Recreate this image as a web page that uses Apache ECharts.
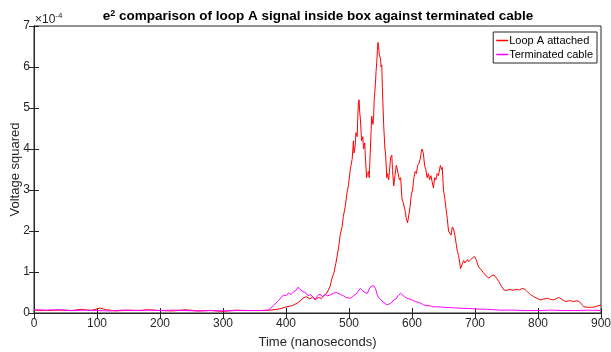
<!DOCTYPE html>
<html lang="en">

<head>
    <meta charset="UTF-8">
    <title>e2 comparison</title>
    <script src="https://cdn.jsdelivr.net/npm/echarts@6/dist/echarts.min.js"></script>
    <style>
        html, body { margin: 0; padding: 0; background: #fff; }
        #chart { width: 611px; height: 352px; }
    </style>
</head>

<body>
    <div id="chart"></div>
    <script>
        // values in units of 1e-4 (V^2), time in ns
        var loopTime = [0, 20, 40, 60, 75, 90, 105, 115, 130, 150, 170, 180, 200, 220, 240, 260, 280, 300, 320, 340, 360, 375, 390, 401, 410, 419, 427, 432, 438, 442, 447, 452, 456, 460, 465, 470, 473, 476, 479, 481, 484, 486, 489, 491, 494, 497, 499, 502, 505, 507, 508, 510, 511, 513, 514, 515, 516, 517, 518, 520, 522, 523, 525, 526, 528, 529, 531, 532, 534, 535, 536, 538, 539, 540, 542, 543, 544, 545, 546, 547, 548, 550, 551, 552, 553, 555, 557, 558, 560, 561, 563, 565, 566, 568, 569, 571, 573, 575, 576, 578, 580, 582, 584, 586, 589, 591, 593, 595, 597, 599, 601, 603, 605, 607, 609, 611, 613, 615, 616, 618, 620, 622, 624, 626, 628, 630, 632, 634, 636, 638, 640, 642, 645, 647, 648, 650, 652, 654, 656, 658, 660, 662, 664, 666, 668, 670, 672, 674, 676, 677, 680, 682, 684, 686, 688, 690, 693, 696, 699, 702, 705, 707, 710, 714, 718, 722, 726, 730, 734, 738, 742, 746, 750, 755, 760, 765, 770, 775, 779, 783, 788, 793, 798, 804, 809, 815, 820, 825, 829, 833, 838, 844, 850, 857, 862, 866, 870, 873, 878, 883, 888, 894, 900];
        var loopVal = [0.07, 0.06, 0.07, 0.06, 0.09, 0.06, 0.12, 0.08, 0.05, 0.07, 0.06, 0.08, 0.06, 0.05, 0.08, 0.05, 0.06, 0.04, 0.07, 0.06, 0.06, 0.07, 0.10, 0.15, 0.18, 0.25, 0.36, 0.40, 0.34, 0.39, 0.33, 0.38, 0.35, 0.42, 0.49, 0.65, 0.85, 0.97, 1.2, 1.37, 1.65, 1.9, 2.1, 2.35, 2.6, 2.95, 3.1, 3.5, 3.75, 4.2, 3.9, 4.1, 4.4, 4.3, 4.8, 5.15, 5.2, 4.9, 4.75, 4.2, 4.3, 4.0, 4.15, 3.8, 3.3, 3.4, 3.45, 3.3, 4.0, 4.4, 4.8, 4.6, 4.75, 5.2, 5.6, 5.9, 6.1, 6.4, 6.6, 6.5, 6.3, 6.2, 6.0, 6.05, 5.5, 4.6, 4.0, 3.9, 3.3, 3.4, 3.25, 3.6, 3.8, 3.85, 3.5, 3.1, 3.35, 3.6, 3.55, 3.4, 3.25, 3.3, 2.8, 2.7, 2.5, 2.3, 2.2, 2.4, 2.6, 2.9, 3.0, 3.3, 3.45, 3.4, 3.6, 3.65, 3.75, 3.95, 4.0, 3.9, 3.6, 3.5, 3.3, 3.4, 3.25, 3.35, 3.2, 3.05, 3.3, 3.25, 3.4, 3.35, 3.6, 3.5, 3.55, 3.0, 2.8, 2.55, 2.3, 2.0, 2.0, 1.9, 2.1, 2.05, 1.9, 1.7, 1.5, 1.4, 1.2, 1.08, 1.2, 1.28, 1.22, 1.25, 1.3, 1.25, 1.3, 1.32, 1.38, 1.3, 1.15, 1.1, 1.05, 0.97, 0.9, 0.85, 0.9, 0.93, 0.85, 0.76, 0.65, 0.56, 0.55, 0.58, 0.55, 0.58, 0.56, 0.6, 0.58, 0.52, 0.45, 0.4, 0.36, 0.32, 0.34, 0.36, 0.33, 0.32, 0.35, 0.38, 0.33, 0.28, 0.3, 0.28, 0.3, 0.27, 0.2, 0.15, 0.14, 0.14, 0.14, 0.17, 0.19];

        var cableTime = [0, 20, 40, 60, 80, 100, 120, 140, 160, 180, 200, 220, 240, 260, 280, 300, 320, 340, 360, 372, 380, 388, 396, 400, 404, 408, 412, 416, 419, 422, 425, 427, 431, 435, 439, 443, 446, 450, 454, 458, 462, 466, 470, 475, 480, 483, 487, 491, 495, 499, 503, 507, 511, 514, 518, 521, 525, 529, 532, 534, 537, 539, 542, 545, 548, 550, 554, 557, 560, 564, 568, 571, 575, 578, 582, 585, 588, 592, 596, 600, 605, 610, 614, 618, 624, 630, 634, 640, 650, 661, 675, 690, 700, 720, 740, 760, 780, 800, 820, 840, 860, 880, 900];
        var cableVal = [0.08, 0.07, 0.08, 0.06, 0.07, 0.06, 0.05, 0.07, 0.06, 0.07, 0.06, 0.07, 0.06, 0.05, 0.06, 0.05, 0.06, 0.06, 0.06, 0.07, 0.18, 0.3, 0.44, 0.42, 0.49, 0.45, 0.52, 0.55, 0.63, 0.58, 0.6, 0.52, 0.5, 0.42, 0.45, 0.38, 0.32, 0.42, 0.46, 0.4, 0.45, 0.42, 0.44, 0.48, 0.5, 0.52, 0.45, 0.42, 0.38, 0.37, 0.36, 0.42, 0.46, 0.44, 0.6, 0.55, 0.5, 0.48, 0.58, 0.64, 0.62, 0.67, 0.6, 0.44, 0.36, 0.32, 0.27, 0.23, 0.2, 0.22, 0.26, 0.32, 0.35, 0.42, 0.48, 0.44, 0.4, 0.36, 0.34, 0.32, 0.28, 0.26, 0.24, 0.2, 0.18, 0.17, 0.15, 0.15, 0.14, 0.13, 0.12, 0.11, 0.1, 0.09, 0.07, 0.07, 0.06, 0.06, 0.07, 0.06, 0.06, 0.07, 0.06];

        var xTicks = [0, 100, 200, 300, 400, 500, 600, 700, 800, 900];
        var yTicks = [0, 1, 2, 3, 4, 5, 6, 7];

        function pairs(t, v) {
            var out = [];
            for (var i = 0; i < t.length; i++) {
                out.push([t[i], v[i]]);
            }
            return out;
        }

        var axisColor = '#262626';
        var font = 'Liberation Sans, Arial, sans-serif';

        var chart = echarts.init(document.getElementById('chart'));
        chart.setOption({
            animation: false,
            textStyle: { fontFamily: font },
            title: {
                text: '{b|e}{s|2}{b| comparison of loop A signal inside box against terminated cable}',
                left: 313,
                textAlign: 'center',
                top: 4,
                textStyle: {
                    rich: {
                        b: { fontSize: 13.5, fontWeight: 'bold', color: '#000', fontFamily: font },
                        s: { fontSize: 9, fontWeight: 'bold', color: '#000', fontFamily: font, verticalAlign: 'top', lineHeight: 10, padding: [0, 0, 6, 0] }
                    }
                }
            },
            graphic: [{
                type: 'text',
                left: 35,
                top: 12,
                style: {
                    text: '{m|×10}{s|-4}',
                    rich: {
                        m: { fontSize: 12, fill: axisColor, fontFamily: font },
                        s: { fontSize: 8, fill: axisColor, fontFamily: font, padding: [0, 0, 7, 0] }
                    }
                }
            }],
            legend: {
                orient: 'vertical',
                right: 14,
                top: 32,
                backgroundColor: '#fff',
                borderColor: axisColor,
                borderWidth: 1,
                borderRadius: 0,
                padding: [3, 4, 3, 3],
                itemGap: 3,
                itemWidth: 12,
                itemHeight: 1.5,
                icon: 'rect',
                textStyle: { fontSize: 11, color: '#000', padding: [0, 0, 0, -4] },
                data: ['Loop A attached', 'Terminated cable']
            },
            grid: {
                left: 34,
                right: 10,
                top: 26,
                bottom: 39,
                containLabel: false,
                outerBoundsMode: 'none',
                show: true,
                borderColor: axisColor,
                borderWidth: 1
            },
            xAxis: [{
                type: 'value',
                min: 0,
                max: 900,
                interval: 100,
                name: 'Time (nanoseconds)',
                nameLocation: 'middle',
                nameGap: 23,
                nameTextStyle: { fontSize: 13, color: axisColor },
                axisLine: { lineStyle: { color: axisColor } },
                axisTick: { inside: true, length: 5, lineStyle: { color: axisColor } },
                axisLabel: { fontSize: 12, color: axisColor, margin: 5 },
                splitLine: { show: false }
            }, {
                type: 'value',
                position: 'top',
                min: 0,
                max: 900,
                interval: 100,
                axisLine: { lineStyle: { color: axisColor } },
                axisTick: { inside: true, length: 5, lineStyle: { color: axisColor } },
                axisLabel: { show: false },
                splitLine: { show: false }
            }],
            yAxis: [{
                type: 'value',
                min: 0,
                max: 7,
                interval: 1,
                name: 'Voltage squared',
                nameLocation: 'middle',
                nameGap: 12,
                nameMoveOverlap: false,
                nameTextStyle: { fontSize: 13, color: axisColor },
                axisLine: { show: true, lineStyle: { color: axisColor } },
                axisTick: { show: true, inside: true, length: 5, lineStyle: { color: axisColor } },
                axisLabel: { fontSize: 12, color: axisColor, margin: 4 },
                splitLine: { show: false }
            }, {
                type: 'value',
                position: 'right',
                min: 0,
                max: 7,
                interval: 1,
                axisLine: { show: true, lineStyle: { color: axisColor } },
                axisTick: { show: true, inside: true, length: 5, lineStyle: { color: axisColor } },
                axisLabel: { show: false },
                splitLine: { show: false }
            }],
            series: [{
                name: 'Loop A attached',
                type: 'line',
                showSymbol: false,
                color: '#ff0000',
                lineStyle: { width: 1 },
                data: pairs(loopTime, loopVal)
            }, {
                name: 'Terminated cable',
                type: 'line',
                showSymbol: false,
                color: '#ff00ff',
                lineStyle: { width: 1 },
                data: pairs(cableTime, cableVal)
            }]
        });
    </script>
</body>

</html>
